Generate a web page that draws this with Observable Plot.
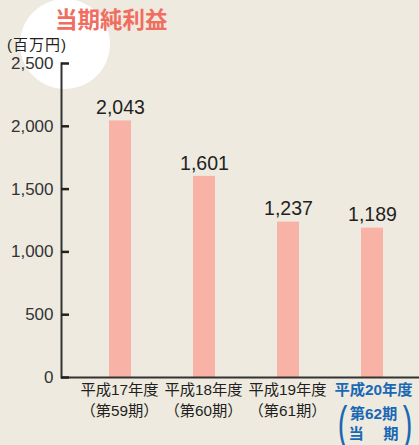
<!DOCTYPE html>
<html><head><meta charset="utf-8">
<script src="https://cdn.jsdelivr.net/npm/d3@7"></script>
<script src="https://cdn.jsdelivr.net/npm/@observablehq/plot@0.6"></script>
<style>
html,body{margin:0;padding:0;background:#eeeae0;}
#wrap{position:relative;width:419px;height:445px;overflow:hidden;background:#eeeae0;font-family:"Liberation Sans","Noto Sans CJK JP",sans-serif;}
#circle{position:absolute;left:20px;top:-1px;width:90px;height:90px;border-radius:50%;background:#fff;}
#title{position:absolute;left:55px;top:5px;font-family:"Noto Sans CJK JP";font-weight:700;font-size:22.5px;color:#f06e5f;line-height:27px;}
#unit{position:absolute;left:7px;top:36px;font-family:"Liberation Sans","Noto Sans CJK JP";font-size:15px;letter-spacing:1px;color:#231f20;line-height:18px;}
#chart{position:absolute;left:0;top:0;}
</style></head>
<body><div id="wrap"><div id="circle"></div><div id="title">当期純利益</div><div id="unit">(百万円)</div><div id="chart"></div></div>
<script>
const categories = ["平成17年度","平成18年度","平成19年度","平成20年度"];
const periods = ["（第59期）","（第60期）","（第61期）","第62期"];
const values = [2043, 1601, 1237, 1189];
const yTicks = [0, 500, 1000, 1500, 2000, 2500];

const data = categories.map((c, i) => ({cat: c, period: periods[i], value: values[i], current: i === 3}));
const ink = "#231f20";
const blue = "#1a68b4";
const past = data.filter(d => !d.current);
const cur = data.filter(d => d.current);
const jp = "'Liberation Sans','Noto Sans CJK JP'";

const chart = Plot.plot({
  width: 419, height: 445,
  marginLeft: 61, marginRight: 0, marginTop: 63, marginBottom: 68,
  style: {background: "transparent", fontFamily: "'Liberation Sans','Noto Sans CJK JP',sans-serif", color: ink},
  x: {domain: categories, paddingInner: 0.74, paddingOuter: 0.476, align: 0.57, axis: null},
  y: {domain: [0, 2500], axis: null},
  marks: [
    Plot.barY(data, {x: "cat", y: "value", fill: "#f8b2a6"}),
    Plot.ruleY([0], {stroke: "#333", strokeWidth: 2}),
    Plot.frame({anchor: "left", stroke: "#333", strokeWidth: 2}),
    Plot.axisY(yTicks, {anchor: "left", label: null, tickSize: -8, tickPadding: 16, tickFormat: d3.format(","), fontSize: 17, stroke: "#222", strokeWidth: 2.5, fill: "#333"}),
    Plot.text(data, {x: "cat", y: "value", text: d => d3.format(",")(d.value), dy: -13, fontSize: 19.5, fill: ink, fontFamily: "'Liberation Sans',sans-serif"}),
    Plot.text(past, {x: "cat", frameAnchor: "bottom", text: "cat", dy: 17, dx: -1, fontSize: 15.3, fill: ink, fontFamily: jp}),
    Plot.text(past, {x: "cat", frameAnchor: "bottom", text: "period", dy: 38, dx: -1, fontSize: 15.3, fill: ink, fontFamily: jp}),
    Plot.text(cur, {x: "cat", frameAnchor: "bottom", text: "cat", dy: 17, dx: 1, fontSize: 15.3, fontWeight: "bold", fill: blue, fontFamily: jp}),
    Plot.text(cur, {x: "cat", frameAnchor: "bottom", text: "period", dy: 41, dx: 1, fontSize: 15.3, fontWeight: "bold", fill: blue, fontFamily: jp}),
    Plot.text(cur, {x: "cat", frameAnchor: "bottom", text: () => "当　 期", dy: 61, dx: 1, fontSize: 15.3, fontWeight: "bold", fill: blue, fontFamily: jp}),
    Plot.text(cur, {x: "cat", frameAnchor: "bottom", text: () => "(", dy: 62, dx: -30, fontSize: 48, fill: blue, fontFamily: "'Liberation Sans'", className: "paren"}),
    Plot.text(cur, {x: "cat", frameAnchor: "bottom", text: () => ")", dy: 62, dx: 35, fontSize: 48, fill: blue, fontFamily: "'Liberation Sans'", className: "paren"})
  ]
});
d3.select(chart).selectAll(".paren text").each(function() {
  const t = this.getAttribute("transform") || "";
  this.setAttribute("transform", (t + " scale(0.6,1)").trim());
});
document.getElementById("chart").appendChild(chart);
</script></body></html>
